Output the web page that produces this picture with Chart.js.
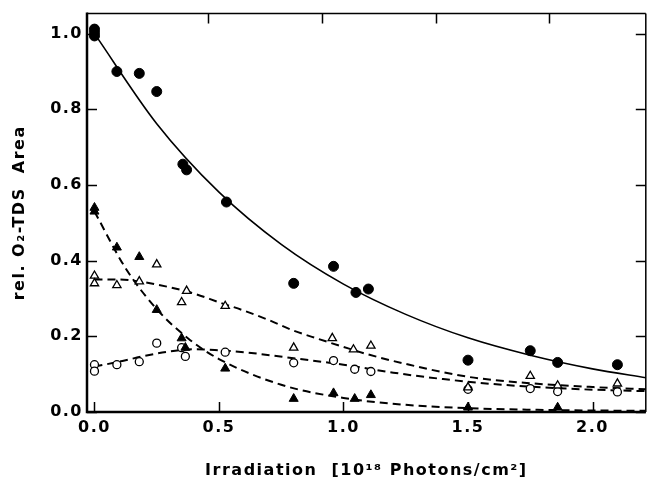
<!DOCTYPE html>
<html>
<head>
<meta charset="utf-8">
<script src="https://cdn.jsdelivr.net/npm/chart.js@4"></script>
<style>
    body { margin: 0; background: #fff; }
    #wrap { width: 652px; height: 477px; }
</style>
</head>
<body>
<div id="wrap"><canvas id="grafico"></canvas></div>
<script>
const xCirculoLleno = [0, 0, 0, 0.09, 0.18, 0.25, 0.355, 0.37, 0.53, 0.80, 0.96, 1.05, 1.10, 1.50, 1.75, 1.86, 2.10];
const yCirculoLleno = [1.012, 0.994, 1.003, 0.90, 0.895, 0.847, 0.655, 0.64, 0.555, 0.34, 0.385, 0.316, 0.325, 0.137, 0.162, 0.131, 0.125];

const xTrianguloLleno = [0, 0, 0.09, 0.18, 0.25, 0.35, 0.365, 0.525, 0.80, 0.96, 1.045, 1.11, 1.50, 1.86];
const yTrianguloLleno = [0.54, 0.53, 0.435, 0.41, 0.27, 0.195, 0.17, 0.115, 0.035, 0.05, 0.035, 0.045, 0.012, 0.012];

const xTrianguloVacio = [0, 0, 0.09, 0.18, 0.25, 0.35, 0.37, 0.525, 0.80, 0.955, 1.04, 1.11, 1.50, 1.75, 1.86, 2.10];
const yTrianguloVacio = [0.36, 0.34, 0.335, 0.345, 0.39, 0.29, 0.32, 0.28, 0.17, 0.195, 0.165, 0.175, 0.065, 0.095, 0.07, 0.075];

const xCirculoVacio = [0, 0, 0.09, 0.18, 0.25, 0.35, 0.365, 0.525, 0.80, 0.96, 1.045, 1.11, 1.50, 1.75, 1.86, 2.10];
const yCirculoVacio = [0.125, 0.108, 0.125, 0.133, 0.182, 0.17, 0.147, 0.158, 0.13, 0.136, 0.113, 0.107, 0.06, 0.062, 0.054, 0.053];

// Curvas de ajuste
const xAjusteLleno = [0, 0.25, 0.5, 0.75, 1.0, 1.25, 1.5, 1.75, 2.0, 2.22];
const yAjusteLleno = [1.0, 0.762, 0.581, 0.443, 0.338, 0.258, 0.196, 0.15, 0.114, 0.09];

const xAjusteTriLleno = [0, 0.125, 0.25, 0.375, 0.5, 0.75, 1.0, 1.25, 1.5, 1.75, 2.0, 2.22];
const yAjusteTriLleno = [0.53, 0.38, 0.272, 0.195, 0.14, 0.072, 0.037, 0.019, 0.01, 0.006, 0.004, 0.003];

const xAjusteTriVacio = [0, 0.1, 0.2, 0.3, 0.4, 0.5, 0.6, 0.7, 0.8, 0.9, 1.0, 1.1, 1.25, 1.5, 1.75, 2.0, 2.22];
const yAjusteTriVacio = [0.35, 0.35, 0.343, 0.33, 0.313, 0.29, 0.268, 0.243, 0.215, 0.193, 0.172, 0.152, 0.127, 0.093, 0.076, 0.066, 0.06];

const xAjusteCircVacio = [0, 0.1, 0.2, 0.3, 0.4, 0.5, 0.6, 0.8, 1.0, 1.2, 1.4, 1.6, 1.8, 2.0, 2.22];
const yAjusteCircVacio = [0.12, 0.133, 0.148, 0.16, 0.166, 0.163, 0.158, 0.142, 0.125, 0.104, 0.087, 0.074, 0.065, 0.059, 0.055];

// Marcas de los ejes
const ticksX = [0, 0.5, 1.0, 1.5, 2.0];
const ticksY = [0, 0.2, 0.4, 0.6, 0.8, 1.0];
const ticksArriba = [1, 2, 3, 4];

const aPuntos = (xs, ys) => xs.map((x, i) => ({ x, y: ys[i] }));

// Letras un poco más separadas, como en la figura original
const espaciadoPlugin = {
    id: 'espaciado',
    beforeLayout(chart) { chart.ctx.letterSpacing = '1.5px'; },
    beforeDraw(chart) { chart.ctx.letterSpacing = '1.5px'; }
};

// Dibuja el marco y las marcas hacia dentro
const marcoPlugin = {
    id: 'marco',
    afterDraw(chart) {
        const ctx = chart.ctx;
        const a = chart.chartArea;
        const largo = 10;
        ctx.save();
        ctx.strokeStyle = '#000';
        ctx.lineCap = 'butt';

        ctx.lineWidth = 1.5;
        ctx.beginPath();
        ctx.moveTo(a.left, a.top); ctx.lineTo(a.right, a.top);
        ctx.moveTo(a.right, a.top); ctx.lineTo(a.right, a.bottom);
        ctx.stroke();

        ctx.lineWidth = 2.5;
        ctx.beginPath();
        ctx.moveTo(a.left, a.top - 1); ctx.lineTo(a.left, a.bottom);
        ctx.lineTo(a.right, a.bottom);
        ctx.stroke();

        ctx.lineWidth = 1.5;
        ctx.beginPath();
        chart.scales.y.ticks.forEach(t => {
            const py = Math.round(chart.scales.y.getPixelForValue(t.value)) + 0.5;
            ctx.moveTo(a.left, py); ctx.lineTo(a.left + largo, py);
            ctx.moveTo(a.right, py); ctx.lineTo(a.right - largo, py);
        });
        chart.scales.x.ticks.forEach(t => {
            const px = Math.round(chart.scales.x.getPixelForValue(t.value)) + 0.5;
            ctx.moveTo(px, a.bottom); ctx.lineTo(px, a.bottom - largo);
        });
        chart.scales.x2.ticks.forEach(t => {
            const px = Math.round(chart.scales.x2.getPixelForValue(t.value)) + 0.5;
            ctx.moveTo(px, a.top); ctx.lineTo(px, a.top + largo);
        });
        ctx.stroke();
        ctx.restore();
    }
};

Chart.defaults.font.family = "'DejaVu Sans', 'Liberation Sans', Arial, sans-serif";
Chart.defaults.font.weight = 'bold';
Chart.defaults.font.size = 16;
Chart.defaults.color = '#000';

const rayitas = [8, 5];

new Chart(document.getElementById('grafico'), {
    type: 'scatter',
    data: {
        datasets: [
            {
                label: 'círculo lleno',
                data: aPuntos(xCirculoLleno, yCirculoLleno),
                pointStyle: 'circle', pointRadius: 5,
                backgroundColor: '#000', borderColor: '#000', borderWidth: 1
            },
            {
                label: 'triángulo lleno',
                data: aPuntos(xTrianguloLleno, yTrianguloLleno),
                pointStyle: 'triangle', pointRadius: 5.2,
                backgroundColor: '#000', borderColor: '#000', borderWidth: 1
            },
            {
                label: 'triángulo vacío',
                data: aPuntos(xTrianguloVacio, yTrianguloVacio),
                pointStyle: 'triangle', pointRadius: 4.8,
                backgroundColor: '#fff', borderColor: '#000', borderWidth: 1.3
            },
            {
                label: 'círculo vacío',
                data: aPuntos(xCirculoVacio, yCirculoVacio),
                pointStyle: 'circle', pointRadius: 4,
                backgroundColor: '#fff', borderColor: '#000', borderWidth: 1.3
            },
            {
                label: 'ajuste lleno',
                data: aPuntos(xAjusteLleno, yAjusteLleno),
                showLine: true, pointRadius: 0, borderColor: '#000', borderWidth: 1.6,
                cubicInterpolationMode: 'monotone'
            },
            {
                label: 'ajuste tri lleno',
                data: aPuntos(xAjusteTriLleno, yAjusteTriLleno),
                showLine: true, pointRadius: 0, borderColor: '#000', borderWidth: 2,
                borderDash: rayitas, cubicInterpolationMode: 'monotone'
            },
            {
                label: 'ajuste tri vacío',
                data: aPuntos(xAjusteTriVacio, yAjusteTriVacio),
                showLine: true, pointRadius: 0, borderColor: '#000', borderWidth: 2,
                borderDash: rayitas, cubicInterpolationMode: 'monotone'
            },
            {
                label: 'ajuste circ vacío',
                data: aPuntos(xAjusteCircVacio, yAjusteCircVacio),
                showLine: true, pointRadius: 0, borderColor: '#000', borderWidth: 2,
                borderDash: rayitas, cubicInterpolationMode: 'monotone'
            }
        ]
    },
    options: {
        responsive: true,
        maintainAspectRatio: false,
        animation: false,
        layout: { padding: { left: 0, right: -4, top: 0, bottom: 0 } },
        plugins: { legend: { display: false }, tooltip: { enabled: false } },
        elements: { line: { fill: false } },
        scales: {
            x: {
                type: 'linear', position: 'bottom',
                min: -0.03, max: 2.214,
                afterBuildTicks: s => { s.ticks = ticksX.map(v => ({ value: v })); },
                afterFit: s => { s.height = 65; },
                grid: { display: false, drawTicks: false },
                border: { display: false },
                ticks: { padding: 6, callback: v => v.toFixed(1) },
                title: {
                    display: true,
                    text: 'Irradiation  [10¹⁸ Photons/cm²]',
                    font: { size: 16, weight: 'bold' },
                    padding: { top: 0, bottom: -3 }
                }
            },
            x2: {
                type: 'linear', position: 'top',
                min: -0.03 / 0.4565, max: 2.214 / 0.4565,
                afterBuildTicks: s => { s.ticks = ticksArriba.map(v => ({ value: v })); },
                afterFit: s => { s.height = 12; },
                grid: { display: false, drawTicks: false },
                border: { display: false },
                ticks: { display: false }
            },
            y: {
                type: 'linear', position: 'left',
                min: 0, max: 1.053,
                afterBuildTicks: s => { s.ticks = ticksY.map(v => ({ value: v })); },
                afterFit: s => { s.width = 87; },
                grid: { display: false, drawTicks: false },
                border: { display: false },
                ticks: { padding: 4, callback: v => v.toFixed(1) },
                title: {
                    display: true,
                    text: 'rel. O₂-TDS  Area',
                    font: { size: 16, weight: 'bold' },
                    padding: { top: 10, bottom: 0 }
                }
            }
        }
    },
    plugins: [espaciadoPlugin, marcoPlugin]
});
</script>
</body>
</html>
